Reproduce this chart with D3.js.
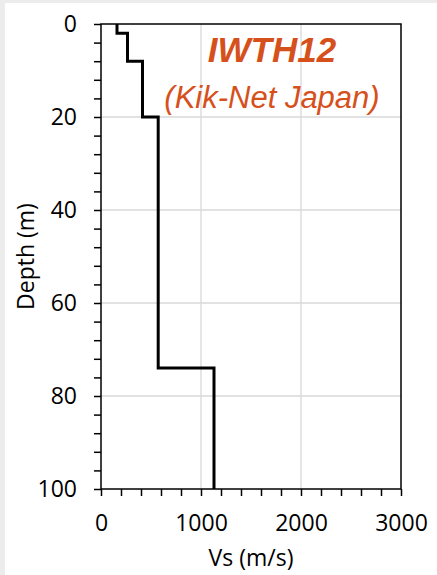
<!DOCTYPE html>
<html>
<head>
<meta charset="utf-8">
<script src="https://cdn.jsdelivr.net/npm/d3@7"></script>
<style>
  html, body { margin: 0; padding: 0; background: #ececec; }
  svg { display: block; }
</style>
</head>
<body>
<div id="chart"></div>
<script>
// layer boundaries (m) and shear wave velocity of each layer (m/s)
const layerDepths = [0, 2, 8, 20, 74, 100];
const layerVs = [160, 265, 415, 572, 1130];

const xTicks = [0, 1000, 2000, 3000];
const yTicks = [0, 20, 40, 60, 80, 100];

const siteName = "IWTH12";
const siteNote = "(Kik-Net Japan)";

const width = 437, height = 575;
const margin = {top: 24, right: 36, bottom: 86, left: 101};

const svg = d3.select("#chart").append("svg")
    .attr("width", width)
    .attr("height", height);

// white panel with the light gray edge of the source
svg.append("rect")
    .attr("x", 5).attr("y", 3)
    .attr("width", width - 5).attr("height", height - 3)
    .attr("fill", "#fff");

const x = d3.scaleLinear().domain([0, 3000]).range([margin.left, width - margin.right]);
const y = d3.scaleLinear().domain([0, 100]).range([margin.top, height - margin.bottom]);

// gridlines
svg.append("g")
    .selectAll("line.gx")
    .data(xTicks.slice(1, -1))
    .enter().append("line")
    .attr("x1", d => x(d)).attr("x2", d => x(d))
    .attr("y1", y(0)).attr("y2", y(100))
    .attr("stroke", "#d9d9d9").attr("stroke-width", 1.3);

svg.append("g")
    .selectAll("line.gy")
    .data(yTicks.slice(1, -1))
    .enter().append("line")
    .attr("x1", x(0)).attr("x2", x(3000))
    .attr("y1", d => y(d)).attr("y2", d => y(d))
    .attr("stroke", "#d9d9d9").attr("stroke-width", 1.3);

// axes with minor ticks
const fontFamily = "'Open Sans', 'Noto Sans', sans-serif";

const xAxis = d3.axisBottom(x)
    .tickValues(d3.range(0, 3001, 200))
    .tickSize(7)
    .tickPadding(19)
    .tickFormat(d => xTicks.includes(d) ? d : "");

const yAxis = d3.axisLeft(y)
    .tickValues(d3.range(0, 101, 4))
    .tickSize(7)
    .tickPadding(17)
    .tickFormat(d => yTicks.includes(d) ? d : "");

const gx = svg.append("g")
    .attr("transform", `translate(0,${y(100)})`)
    .call(xAxis);

const gy = svg.append("g")
    .attr("transform", `translate(${x(0)},0)`)
    .call(yAxis);

[gx, gy].forEach(g => {
    g.select(".domain").remove();
    g.selectAll(".tick line").attr("stroke", "#000").attr("stroke-width", 1.5);
    g.selectAll(".tick text")
        .attr("fill", "#000")
        .style("font-family", fontFamily)
        .style("font-size", "23px");
});

// plot frame
svg.append("rect")
    .attr("x", x(0)).attr("y", y(0))
    .attr("width", x(3000) - x(0))
    .attr("height", y(100) - y(0))
    .attr("fill", "none")
    .attr("stroke", "#000")
    .attr("stroke-width", 1.5);

// step profile
const profile = [];
layerVs.forEach((vs, i) => {
    profile.push([vs, layerDepths[i]]);
    profile.push([vs, layerDepths[i + 1]]);
});

svg.append("path")
    .datum(profile)
    .attr("fill", "none")
    .attr("stroke", "#000")
    .attr("stroke-width", 3)
    .attr("d", d3.line().x(d => x(d[0])).y(d => y(d[1])));

// axis titles
svg.append("text")
    .attr("x", (x(0) + x(3000)) / 2)
    .attr("y", 566)
    .attr("text-anchor", "middle")
    .style("font-family", fontFamily)
    .style("font-size", "23px")
    .text("Vs (m/s)");

svg.append("text")
    .attr("transform", `translate(34,${(y(0) + y(100)) / 2}) rotate(-90)`)
    .attr("text-anchor", "middle")
    .style("font-family", fontFamily)
    .style("font-size", "23px")
    .text("Depth (m)");

// site label
const labelColor = "#d6501c";
svg.append("text")
    .attr("x", 272)
    .attr("y", 62)
    .attr("text-anchor", "middle")
    .attr("fill", labelColor)
    .style("font-family", "'Liberation Sans', Arial, sans-serif")
    .style("font-weight", "bold")
    .style("font-style", "italic")
    .style("font-size", "35px")
    .text(siteName);

svg.append("text")
    .attr("x", 272)
    .attr("y", 108)
    .attr("text-anchor", "middle")
    .attr("fill", labelColor)
    .style("font-family", "'Liberation Sans', Arial, sans-serif")
    .style("font-style", "italic")
    .style("font-size", "31px")
    .text(siteNote);
</script>
</body>
</html>
